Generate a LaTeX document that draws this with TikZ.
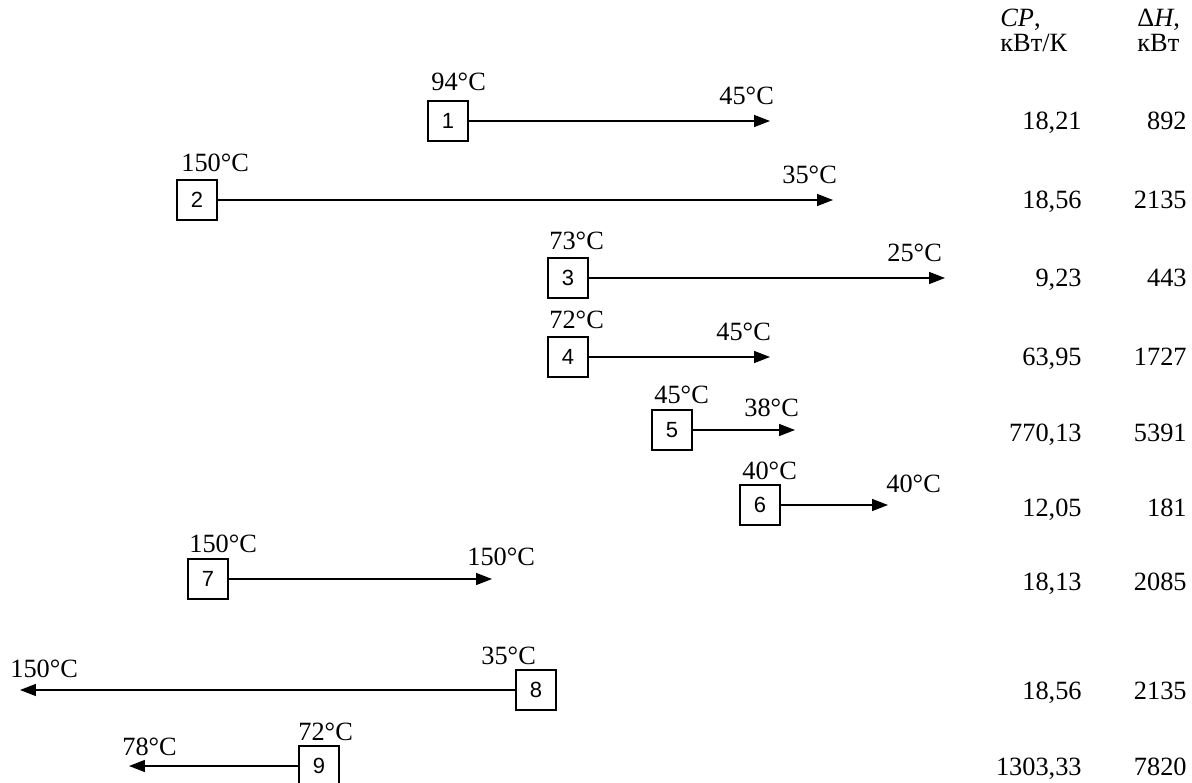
\documentclass[tikz,border=0pt]{standalone}
\usepackage{fontspec}
\setmainfont{Liberation Serif}
\setsansfont{Liberation Sans}
\usetikzlibrary{arrows.meta}
\tikzset{
  strm/.style={draw,minimum size=0.8cm,inner sep=0pt,line width=0.9pt,font=\sffamily\fontsize{12.5}{14}\selectfont},
  flow/.style={-{Triangle[length=0.32cm,width=0.24cm]},line width=0.85pt},
  tmp/.style={inner sep=0pt,anchor=base west,font=\fontsize{15}{17}\selectfont},
  val/.style={inner sep=0pt,anchor=base east,font=\fontsize{15}{17}\selectfont}
}
\begin{document}
\begin{tikzpicture}[x=0.02cm,y=-0.02cm]
\useasboundingbox (0,0) rectangle (1192,783);
% headers
\node[tmp] (hcp) at (1000,27) {\textit{CP},};
\node[tmp] (hcpu) at (1000,52) {кВт/К};
\node[tmp] (hdh) at (1137,27) {Δ\textit{H},};
\node[tmp] (hdhu) at (1137,52) {кВт};
% streams
\node[strm] (s1) at (448,121) {1};
\coordinate (e1) at (770,121);
\draw[flow] (s1)--(e1);
\node[tmp] (t1a) at (431,91) {94°C};
\node[tmp] (t1b) at (719,105) {45°C};
\node[strm] (s2) at (197,200) {2};
\coordinate (e2) at (833,200);
\draw[flow] (s2)--(e2);
\node[tmp] (t2a) at (181,172) {150°C};
\node[tmp] (t2b) at (782,184) {35°C};
\node[strm] (s3) at (568,278) {3};
\coordinate (e3) at (945,278);
\draw[flow] (s3)--(e3);
\node[tmp] (t3a) at (549,250) {73°C};
\node[tmp] (t3b) at (887,262) {25°C};
\node[strm] (s4) at (568,357) {4};
\coordinate (e4) at (770,357);
\draw[flow] (s4)--(e4);
\node[tmp] (t4a) at (549,329) {72°C};
\node[tmp] (t4b) at (716,341) {45°C};
\node[strm] (s5) at (672,430) {5};
\coordinate (e5) at (795,430);
\draw[flow] (s5)--(e5);
\node[tmp] (t5a) at (654,403) {45°C};
\node[tmp] (t5b) at (744,417) {38°C};
\node[strm] (s6) at (760,505) {6};
\coordinate (e6) at (888,505);
\draw[flow] (s6)--(e6);
\node[tmp] (t6a) at (742,479) {40°C};
\node[tmp] (t6b) at (886,492) {40°C};
\node[strm] (s7) at (208,579) {7};
\coordinate (e7) at (492,579);
\draw[flow] (s7)--(e7);
\node[tmp] (t7a) at (189,552) {150°C};
\node[tmp] (t7b) at (467,565) {150°C};
\node[strm] (s8) at (536,690) {8};
\coordinate (e8) at (20,690);
\draw[flow] (s8)--(e8);
\node[tmp] (t8a) at (481,664) {35°C};
\node[tmp] (t8b) at (10,677) {150°C};
\node[strm] (s9) at (319,766) {9};
\coordinate (e9) at (129,766);
\draw[flow] (s9)--(e9);
\node[tmp] (t9a) at (298,740) {72°C};
\node[tmp] (t9b) at (122,755) {78°C};
% values
\node[val] (c1) at (1082,130) {18,21};
\node[val] (h1) at (1187,130) {892};
\node[val] (c2) at (1082,209) {18,56};
\node[val] (h2) at (1187,209) {2135};
\node[val] (c3) at (1082,287) {9,23};
\node[val] (h3) at (1187,287) {443};
\node[val] (c4) at (1082,366) {63,95};
\node[val] (h4) at (1187,366) {1727};
\node[val] (c5) at (1082,441) {770,13};
\node[val] (h5) at (1187,441) {5391};
\node[val] (c6) at (1082,516) {12,05};
\node[val] (h6) at (1187,516) {181};
\node[val] (c7) at (1082,590) {18,13};
\node[val] (h7) at (1187,590) {2085};
\node[val] (c8) at (1082,699) {18,56};
\node[val] (h8) at (1187,699) {2135};
\node[val] (c9) at (1082,775) {1303,33};
\node[val] (h9) at (1187,775) {7820};
\end{tikzpicture}
\end{document}
